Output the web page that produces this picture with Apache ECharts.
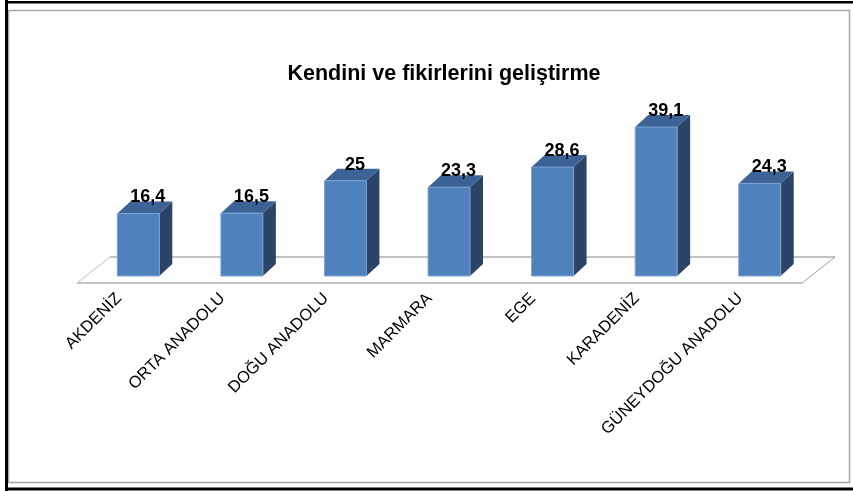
<!DOCTYPE html>
<html>
<head>
<meta charset="utf-8">
<script src="https://cdn.jsdelivr.net/npm/echarts@6/dist/echarts.min.js"></script>
<style>
html,body{margin:0;padding:0;background:#fff;}
#chart{width:853px;height:491px;}
</style>
</head>
<body>
<div id="chart"></div>
<script>
var titleText = 'Kendini ve fikirlerini geliştirme';
var categories = ['AKDENİZ', 'ORTA ANADOLU', 'DOĞU ANADOLU', 'MARMARA', 'EGE', 'KARADENİZ', 'GÜNEYDOĞU ANADOLU'];
var values = [16.4, 16.5, 25, 23.3, 28.6, 39.1, 24.3];
var valueLabels = ['16,4', '16,5', '25', '23,3', '28,6', '39,1', '24,3'];

var chart = echarts.init(document.getElementById('chart'), null, {renderer: 'canvas'});

var DX = 13, DY = 12;          // bar depth projection
var FLOOR_DX = 33, FLOOR_FRONT = 7, FLOOR_BACK = 19;

function renderFloor(params, api) {
  var band = api.size([1, 0])[0];
  var first = api.coord([0, 0]);
  var last = api.coord([categories.length - 1, 0]);
  var xl = first[0] - band / 2, xr = last[0] + band / 2, y0 = first[1];
  var fy = y0 + FLOOR_FRONT, by = y0 - FLOOR_BACK;
  return {
    type: 'group',
    children: [
      {type: 'polygon', shape: {points: [[xl, fy], [xr, fy], [xr + FLOOR_DX, by], [xl + FLOOR_DX, by]]}, style: {fill: '#fff', stroke: null}},
      {type: 'line', shape: {x1: xl + FLOOR_DX, y1: by, x2: xr + FLOOR_DX, y2: by}, style: {stroke: '#868686', lineWidth: 1}},
      {type: 'line', shape: {x1: xl, y1: fy, x2: xr, y2: fy}, style: {stroke: '#868686', lineWidth: 1}},
      {type: 'line', shape: {x1: xl, y1: fy, x2: xl + FLOOR_DX, y2: by}, style: {stroke: '#c0c0c0', lineWidth: 1}},
      {type: 'line', shape: {x1: xr, y1: fy, x2: xr + FLOOR_DX, y2: by}, style: {stroke: '#a0a0a0', lineWidth: 1}}
    ]
  };
}

function renderBar(params, api) {
  var idx = api.value(0);
  var val = api.value(1);
  var band = api.size([1, 0])[0];
  var top = api.coord([idx, val]);
  var base = api.coord([idx, 0]);
  var w = band * 0.405;
  var cx = top[0] + band * 0.092;
  var xl = cx - w / 2, xr = cx + w / 2;
  var yt = top[1], yb = base[1];
  return {
    type: 'group',
    children: [
      {type: 'polygon', shape: {points: [[xr, yb], [xr + DX, yb - DY], [xr + DX, yt - DY], [xr, yt]]}, style: {fill: '#2b4468'}},
      {type: 'polygon', shape: {points: [[xl, yt], [xr, yt], [xr + DX, yt - DY], [xl + DX, yt - DY]]}, style: {fill: '#3b6395'}},
      {type: 'rect', shape: {x: xl, y: yt, width: w, height: yb - yt}, style: {fill: '#4f81bd', stroke: '#7fa3d2', lineWidth: 1}},
      {type: 'text', style: {text: valueLabels[params.dataIndex], x: cx + DX / 2 + 3, y: yt - 16, align: 'center', verticalAlign: 'middle',
        font: 'bold 18px "Liberation Sans", Arial, sans-serif', fill: '#000'}}
    ]
  };
}

var barData = values.map(function (v, i) { return [i, v]; });

chart.setOption({
  animation: false,
  backgroundColor: '#fff',
  title: {
    text: titleText,
    left: 439,
    textAlign: 'center',
    top: 58,
    textStyle: {fontFamily: '"Liberation Sans", Arial, sans-serif', fontSize: 21.5, fontWeight: 'bold', color: '#000'}
  },
  grid: {left: 77, right: 51, top: 85.5, bottom: 215, containLabel: false},
  xAxis: {
    type: 'category',
    data: categories,
    axisLine: {show: false},
    axisTick: {show: false},
    splitLine: {show: false},
    axisLabel: {
      interval: 0,
      rotate: 45,
      margin: 10,
      padding: [0, 14, 0, 0],
      color: '#000',
      fontSize: 16.5,
      fontFamily: '"Liberation Sans", Arial, sans-serif'
    }
  },
  yAxis: {type: 'value', min: 0, max: 50, show: false},
  graphic: [
    {type: 'rect', shape: {x: 8.5, y: 10.5, width: 841, height: 472}, style: {fill: null, stroke: '#a6a6a6', lineWidth: 1.5}, z: 0, silent: true},
    {type: 'rect', shape: {x: 5, y: 0, width: 3, height: 491}, style: {fill: '#000'}, silent: true},
    {type: 'rect', shape: {x: 5, y: 1, width: 848, height: 2.5}, style: {fill: '#000'}, silent: true},
    {type: 'rect', shape: {x: 5, y: 487.5, width: 848, height: 3}, style: {fill: '#000'}, silent: true}
  ],
  series: [
    {type: 'custom', name: 'floor', data: [[0, 0]], renderItem: renderFloor, z: 1, silent: true},
    {type: 'custom', name: 'bars', data: barData, renderItem: renderBar, z: 2, encode: {x: 0, y: 1}}
  ]
});
</script>
</body>
</html>
